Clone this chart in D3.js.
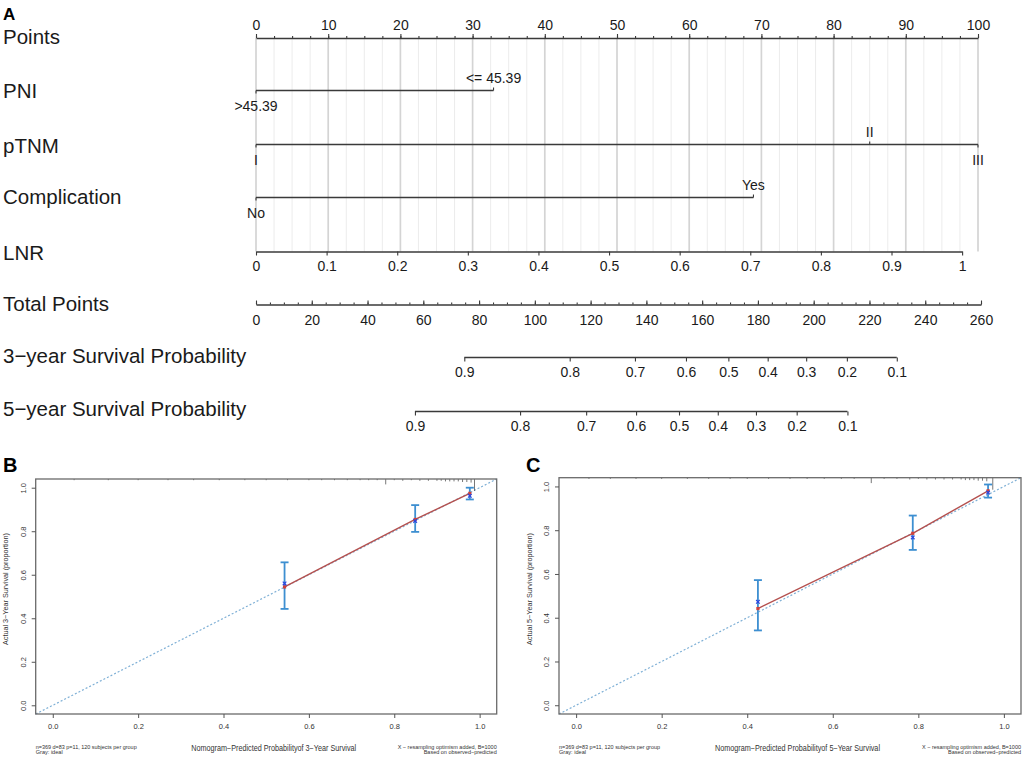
<!DOCTYPE html>
<html>
<head>
<meta charset="utf-8">
<script src="https://cdn.jsdelivr.net/npm/d3@7"></script>
<style>
body { margin: 0; background: #fff; }
svg { display: block; font-family: "Liberation Sans", Arial, Helvetica, sans-serif; }
</style>
</head>
<body>
<svg id="fig" width="1026" height="762"></svg>
<script>
// ---- panel A: nomogram ----
var pointTicks = [0, 10, 20, 30, 40, 50, 60, 70, 80, 90, 100];
var pniLabels = [">45.39", "<= 45.39"];
var pniPoints = [0, 32.9];
var tnmLabels = ["I", "II", "III"];
var tnmPoints = [0, 85.0, 100];
var compLabels = ["No", "Yes"];
var compPoints = [0, 68.9];
var lnrTicks = [0, 0.1, 0.2, 0.3, 0.4, 0.5, 0.6, 0.7, 0.8, 0.9, 1];
var lnrMaxPoints = 97.8;
var totalTicks = [0, 20, 40, 60, 80, 100, 120, 140, 160, 180, 200, 220, 240, 260];
var survProbs = [0.9, 0.8, 0.7, 0.6, 0.5, 0.4, 0.3, 0.2, 0.1];
var surv3Points = [74.7, 112.5, 135.9, 154.2, 169.4, 183.5, 197.3, 211.9, 229.8];
var surv5Points = [57.0, 94.7, 118.4, 136.3, 151.7, 165.6, 179.3, 193.9, 212.1];
var rowLabels = ["Points", "PNI", "pTNM", "Complication", "LNR", "Total Points",
                 "3\u2212year Survival Probability", "5\u2212year Survival Probability"];

// ---- panels B and C: calibration ----
var calTicks = [0, 0.2, 0.4, 0.6, 0.8, 1.0];
var cal3Pred = [0.543, 0.849, 0.977];
var cal3Obs  = [0.544, 0.854, 0.974];
var cal3Corr = [0.560, 0.847, 0.963];
var cal3Lo   = [0.443, 0.797, 0.946];
var cal3Hi   = [0.657, 0.920, 1.000];
var rug3Pred = [0.05, 0.13, 0.2, 0.27, 0.33, 0.39, 0.45, 0.5, 0.55, 0.6, 0.63, 0.66, 0.69, 0.72, 0.74,
                0.76, 0.78, 0.8, 0.82, 0.84, 0.86, 0.88, 0.9, 0.91, 0.92, 0.93, 0.94, 0.95, 0.96, 0.97, 0.98, 0.988];
var rug3Freq = [1, 1, 1, 1, 1, 2, 1, 1, 1, 2, 1, 2, 1, 2, 2, 2, 9, 2, 3, 2, 3, 3, 3, 3, 4, 4, 4, 4, 5, 5, 6, 20];
var cal5Pred = [0.425, 0.787, 0.963];
var cal5Obs  = [0.442, 0.786, 0.980];
var cal5Corr = [0.473, 0.767, 0.972];
var cal5Lo   = [0.342, 0.710, 0.949];
var cal5Hi   = [0.572, 0.867, 1.009];
var rug5Pred = [0.03, 0.08, 0.14, 0.2, 0.26, 0.31, 0.36, 0.4, 0.45, 0.5, 0.54, 0.58, 0.62, 0.65, 0.69,
                0.72, 0.75, 0.78, 0.8, 0.82, 0.84, 0.86, 0.88, 0.9, 0.91, 0.92, 0.93, 0.94, 0.95, 0.96, 0.974];
var rug5Freq = [1, 1, 1, 1, 1, 1, 2, 1, 1, 2, 1, 2, 2, 2, 9, 2, 2, 3, 2, 3, 3, 3, 3, 3, 4, 4, 4, 5, 5, 6, 20];

var svg = d3.select("#fig");
svg.append("rect").attr("width", 1026).attr("height", 762).attr("fill", "#fff");

var ink = "#1a1a1a";
var axisInk = "#3a3a3a";

function styleAxis(g, fs) {
    g.attr("font-family", null).attr("font-size", fs);
    g.selectAll("path.domain").attr("stroke", axisInk).attr("stroke-width", 1.3);
    g.selectAll(".tick line").attr("stroke", axisInk).attr("stroke-width", 1.1);
    g.selectAll(".tick text").attr("fill", ink);
}

// ---------------- A ----------------
svg.append("text").attr("x", 3).attr("y", 20).attr("font-size", 17)
    .attr("font-weight", "bold").attr("fill", "#000").text("A");

var ptsX = d3.scaleLinear().domain([0, 100]).range([256, 978]);
var totX = d3.scaleLinear().domain([0, 260]).range([256, 981]);
var lnrX = d3.scaleLinear().domain([0, 1]).range([ptsX(0), ptsX(lnrMaxPoints)]);

var rowY = [38, 90.5, 144.5, 197.5, 251.5, 304.5, 357.5, 411.5];
var rowBase = [44, 98, 153, 204, 260, 311, 363, 416];

// light vertical grid behind the predictor rows
svg.append("g").selectAll("line")
    .data(d3.range(0, 100.01, 2.5))
    .enter().append("line")
    .attr("x1", function(d) { return ptsX(d); })
    .attr("x2", function(d) { return ptsX(d); })
    .attr("y1", rowY[0]).attr("y2", rowY[4])
    .attr("stroke", function(d) { return d % 10 === 0 ? "#d4d4d4" : "#ececec"; })
    .attr("stroke-width", function(d) { return d % 10 === 0 ? 1.7 : 1; });

svg.append("g").selectAll("text")
    .data(rowLabels)
    .enter().append("text")
    .attr("x", 3)
    .attr("y", function(d, i) { return rowBase[i]; })
    .attr("font-size", 20.5)
    .attr("fill", ink)
    .text(function(d) { return d; });

// Points axis
var gp = svg.append("g").attr("transform", "translate(0," + rowY[0] + ")")
    .call(d3.axisTop(ptsX).tickValues(pointTicks).tickSize(4).tickSizeOuter(0).tickPadding(4));
styleAxis(gp, 14);
var gpm = svg.append("g").attr("transform", "translate(0," + rowY[0] + ")")
    .call(d3.axisTop(ptsX).tickValues(d3.range(0, 100.01, 2.5)).tickSize(2).tickFormat(""));
gpm.select("path.domain").remove();
styleAxis(gpm, 14);

// categorical predictors
function levelRow(labels, pts, y) {
    var g = svg.append("g");
    g.append("line")
        .attr("x1", ptsX(d3.min(pts))).attr("x2", ptsX(d3.max(pts)))
        .attr("y1", y).attr("y2", y)
        .attr("stroke", axisInk).attr("stroke-width", 1.3);
    g.selectAll("line.tk").data(pts).enter().append("line").attr("class", "tk")
        .attr("x1", function(d) { return ptsX(d); })
        .attr("x2", function(d) { return ptsX(d); })
        .attr("y1", y)
        .attr("y2", function(d, i) { return i % 2 === 0 ? y + 3 : y - 3; })
        .attr("stroke", axisInk).attr("stroke-width", 1.1);
    g.selectAll("text").data(labels).enter().append("text")
        .attr("x", function(d, i) { return ptsX(pts[i]); })
        .attr("y", function(d, i) { return i % 2 === 0 ? y + 20 : y - 8; })
        .attr("text-anchor", "middle")
        .attr("font-size", 14)
        .attr("fill", ink)
        .text(function(d) { return d; });
}
levelRow(pniLabels, pniPoints, rowY[1]);
levelRow(tnmLabels, tnmPoints, rowY[2]);
levelRow(compLabels, compPoints, rowY[3]);

// LNR
var gl = svg.append("g").attr("transform", "translate(0," + rowY[4] + ")")
    .call(d3.axisBottom(lnrX).tickValues(lnrTicks).tickSize(4).tickSizeOuter(0)
          .tickPadding(6).tickFormat(d3.format("~g")));
styleAxis(gl, 14);

// Total points
var gt = svg.append("g").attr("transform", "translate(0," + rowY[5] + ")")
    .call(d3.axisBottom(totX).tickValues(totalTicks).tickSize(-4).tickSizeOuter(0).tickPadding(10.5));
styleAxis(gt, 14);
var gtm = svg.append("g").attr("transform", "translate(0," + rowY[5] + ")")
    .call(d3.axisBottom(totX).tickValues(d3.range(0, 260.01, 5)).tickSize(-2).tickFormat(""));
gtm.select("path.domain").remove();
styleAxis(gtm, 14);

// survival probability axes
function probRow(pts, y) {
    var g = svg.append("g").attr("transform", "translate(0," + y + ")")
        .call(d3.axisBottom(totX).tickValues(pts).tickSize(4).tickPadding(6)
              .tickFormat(function(d, i) { return d3.format(".1f")(survProbs[i]); }));
    g.select("path.domain").remove();
    g.append("line")
        .attr("x1", totX(d3.min(pts))).attr("x2", totX(d3.max(pts)))
        .attr("stroke", axisInk).attr("stroke-width", 1.3);
    styleAxis(g, 14);
}
probRow(surv3Points, rowY[6]);
probRow(surv5Points, rowY[7]);

// ---------------- B and C ----------------
function drawCal(o) {
    var g = svg.append("g");
    var x = d3.scaleLinear().domain([-0.04, 1.04]).range([o.left, o.right]);
    var y = d3.scaleLinear().domain([-0.04, 1.04]).range([o.bottom, o.top]);
    var fs = 7.5;

    g.append("text").attr("x", o.letterX).attr("y", 472).attr("font-size", 20)
        .attr("font-weight", "bold").attr("fill", "#000").text(o.letter);

    // ideal line
    g.append("line")
        .attr("x1", x(-0.04)).attr("y1", y(-0.04)).attr("x2", x(1.04)).attr("y2", y(1.04))
        .attr("stroke", "#7fb0d6").attr("stroke-width", 1.2).attr("stroke-dasharray", "2,2");

    // rug of predicted values along the top
    var len = d3.scaleLinear().domain([0, d3.max(o.rugFreq)]).range([0, 12]);
    g.selectAll("line.rug").data(o.rugPred).enter().append("line").attr("class", "rug")
        .attr("x1", function(d) { return x(d); }).attr("x2", function(d) { return x(d); })
        .attr("y1", o.top)
        .attr("y2", function(d, i) { return o.top + Math.max(1.2, len(o.rugFreq[i])); })
        .attr("stroke", "#555").attr("stroke-width", 0.8);

    // observed line
    var pts = o.pred.map(function(p, i) { return [p, o.obs[i]]; });
    g.append("path")
        .attr("d", d3.line().x(function(d) { return x(d[0]); }).y(function(d) { return y(d[1]); })(pts))
        .attr("fill", "none").attr("stroke", "#b4504e").attr("stroke-width", 1.4);

    // error bars
    var eb = g.selectAll("g.eb").data(o.pred).enter().append("g").attr("class", "eb")
        .attr("stroke", "#3d8fd1").attr("stroke-width", 1.8);
    eb.append("line")
        .attr("x1", function(d) { return x(d); }).attr("x2", function(d) { return x(d); })
        .attr("y1", function(d, i) { return y(o.lo[i]); })
        .attr("y2", function(d, i) { return y(o.hi[i]); });
    eb.append("line")
        .attr("x1", function(d) { return x(d) - 4; }).attr("x2", function(d) { return x(d) + 4; })
        .attr("y1", function(d, i) { return y(o.lo[i]); })
        .attr("y2", function(d, i) { return y(o.lo[i]); });
    eb.append("line")
        .attr("x1", function(d) { return x(d) - 4; }).attr("x2", function(d) { return x(d) + 4; })
        .attr("y1", function(d, i) { return y(o.hi[i]); })
        .attr("y2", function(d, i) { return y(o.hi[i]); });

    // observed points
    g.selectAll("rect.obs").data(o.pred).enter().append("rect").attr("class", "obs")
        .attr("x", function(d) { return x(d) - 1.6; })
        .attr("y", function(d, i) { return y(o.obs[i]) - 1.6; })
        .attr("width", 3.2).attr("height", 3.2).attr("fill", "#d0413c");

    // bias-corrected X
    g.selectAll("path.corr").data(o.pred).enter().append("path").attr("class", "corr")
        .attr("d", function(d, i) {
            var cx = x(d), cy = y(o.corr[i]), r = 1.8;
            return "M" + (cx - r) + "," + (cy - r) + "L" + (cx + r) + "," + (cy + r) +
                   "M" + (cx - r) + "," + (cy + r) + "L" + (cx + r) + "," + (cy - r);
        })
        .attr("stroke", "#2b46e0").attr("stroke-width", 1.2);

    // frame
    g.append("rect")
        .attr("x", o.left).attr("y", o.top)
        .attr("width", o.right - o.left).attr("height", o.bottom - o.top)
        .attr("fill", "none").attr("stroke", "#6a6a6a").attr("stroke-width", 1.3);

    // axes
    var gx = g.append("g").attr("transform", "translate(0," + o.bottom + ")")
        .call(d3.axisBottom(x).tickValues(calTicks).tickSize(4).tickPadding(6).tickFormat(d3.format(".1f")));
    gx.select("path.domain").remove();
    gx.attr("font-family", null).attr("font-size", fs);
    gx.selectAll(".tick line").attr("stroke", "#555");
    gx.selectAll(".tick text").attr("fill", "#333");

    var gy = g.append("g").attr("transform", "translate(" + o.left + ",0)")
        .call(d3.axisLeft(y).tickValues(calTicks).tickSize(4).tickFormat(d3.format(".1f")));
    gy.select("path.domain").remove();
    gy.attr("font-family", null).attr("font-size", fs);
    gy.selectAll(".tick line").attr("stroke", "#555");
    gy.selectAll(".tick text").attr("fill", "#333")
        .attr("x", 0).attr("y", -10).attr("dy", null)
        .attr("text-anchor", "middle").attr("transform", "rotate(-90)");

    // titles
    g.append("text")
        .attr("transform", "translate(" + (o.left - 27.5) + ",589) rotate(-90)")
        .attr("text-anchor", "middle").attr("font-size", 7.2).attr("fill", "#333")
        .attr("textLength", 112).attr("lengthAdjust", "spacingAndGlyphs")
        .text(o.ylab);
    var cx = (o.left + o.right) / 2 + 7.5;
    g.append("text")
        .attr("x", cx).attr("y", 751).attr("text-anchor", "middle")
        .attr("font-size", 8.2).attr("fill", "#333")
        .attr("textLength", 165).attr("lengthAdjust", "spacingAndGlyphs")
        .text(o.xlab);

    var small = [
        {t: "n=369 d=83 p=11, 120 subjects per group", x: o.left, y: 748.5, a: "start", w: 101},
        {t: "Gray: ideal", x: o.left, y: 754, a: "start", w: 27},
        {t: "X \u2212 resampling optimism added, B=1000", x: o.right, y: 748.5, a: "end", w: 99},
        {t: "Based on observed\u2212predicted", x: o.right, y: 754, a: "end", w: 73}
    ];
    g.selectAll("text.small").data(small).enter().append("text").attr("class", "small")
        .attr("x", function(d) { return d.x; }).attr("y", function(d) { return d.y; })
        .attr("text-anchor", function(d) { return d.a; })
        .attr("font-size", 5.6).attr("fill", "#333")
        .attr("textLength", function(d) { return d.w; }).attr("lengthAdjust", "spacingAndGlyphs")
        .text(function(d) { return d.t; });
}

drawCal({
    left: 35.7, right: 496.7, top: 479, bottom: 714, letter: "B", letterX: 3,
    pred: cal3Pred, obs: cal3Obs, corr: cal3Corr, lo: cal3Lo, hi: cal3Hi,
    rugPred: rug3Pred, rugFreq: rug3Freq,
    ylab: "Actual 3\u2212Year Survival (proportion)",
    xlab: "Nomogram\u2212Predicted Probabilityof 3\u2212Year Survival"
});
drawCal({
    left: 559, right: 1021, top: 477.7, bottom: 714, letter: "C", letterX: 526,
    pred: cal5Pred, obs: cal5Obs, corr: cal5Corr, lo: cal5Lo, hi: cal5Hi,
    rugPred: rug5Pred, rugFreq: rug5Freq,
    ylab: "Actual 5\u2212Year Survival (proportion)",
    xlab: "Nomogram\u2212Predicted Probabilityof 5\u2212Year Survival"
});
</script>
</body>
</html>
